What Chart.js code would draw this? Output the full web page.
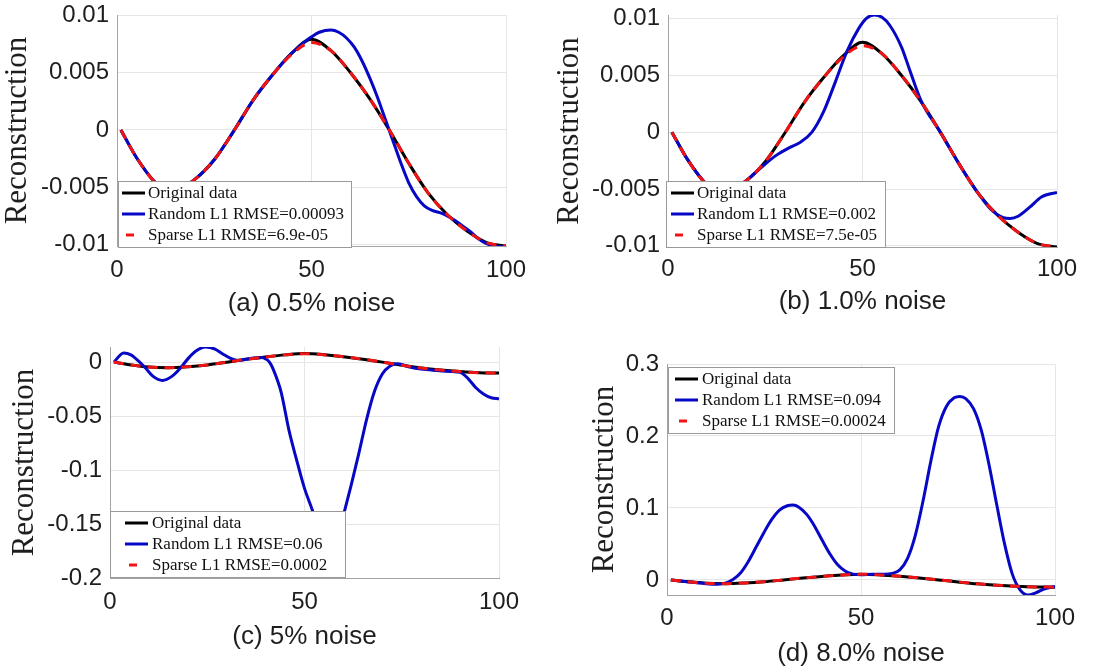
<!DOCTYPE html>
<html>
<head>
<meta charset="utf-8">
<script src="https://cdn.jsdelivr.net/npm/chart.js@4.4.1/dist/chart.umd.min.js"></script>
<style>
  html, body { margin: 0; padding: 0; background: #fff; }
  body { width: 1118px; height: 671px; position: relative; overflow: hidden; }
  canvas { position: absolute; }
</style>
</head>
<body>
<canvas id="chartA" width="559" height="335" style="left:0px;top:0px"></canvas>
<canvas id="chartB" width="573" height="335" style="left:545px;top:0px"></canvas>
<canvas id="chartC" width="559" height="336" style="left:0px;top:335px"></canvas>
<canvas id="chartD" width="558" height="336" style="left:560px;top:335px"></canvas>
<script>
// ---- shared axis ticks ----
const xTicks = [0, 50, 100];
const yTicksAB = [-0.01, -0.005, 0, 0.005, 0.01];
const yTicksC = [-0.2, -0.15, -0.1, -0.05, 0];
const yTicksD = [0, 0.1, 0.2, 0.3];

// ---- original signal (same in every panel) ----
const xOriginal = [1, 5, 10, 15, 20, 25, 30, 35, 40, 45, 50, 55, 60, 65, 70, 75, 80, 85, 90, 95, 100];
const original  = [0, -0.0024, -0.0046, -0.0052, -0.0043, -0.0026, -0.0001, 0.0026, 0.0048, 0.0067, 0.0079,
                   0.0069, 0.0050, 0.0027, 0.0000, -0.0029, -0.0055, -0.0074, -0.0088, -0.0098, -0.0101];

// ---- sparse L1 reconstructions ----
const sparseA = [0, -0.0024, -0.0046, -0.0052, -0.0043, -0.0026, -0.0001, 0.0026, 0.0048, 0.0066, 0.0076,
                 0.0069, 0.0050, 0.0027, 0.0000, -0.0029, -0.0055, -0.0074, -0.0088, -0.0098, -0.0101];
const sparseB = [0, -0.0024, -0.0046, -0.0052, -0.0043, -0.0026, -0.0001, 0.0026, 0.0048, 0.0066, 0.0076,
                 0.0069, 0.0050, 0.0027, 0.0000, -0.0029, -0.0055, -0.0074, -0.0088, -0.0098, -0.0101];
const sparseC = [0, -0.0024, -0.0046, -0.0052, -0.0043, -0.0026, -0.0001, 0.0026, 0.0048, 0.0067, 0.0078,
                 0.0069, 0.0050, 0.0027, 0.0000, -0.0029, -0.0055, -0.0074, -0.0088, -0.0098, -0.0101];
const sparseD = [0, -0.0024, -0.0046, -0.0052, -0.0043, -0.0026, -0.0001, 0.0026, 0.0048, 0.0067, 0.0078,
                 0.0069, 0.0050, 0.0027, 0.0000, -0.0029, -0.0055, -0.0074, -0.0088, -0.0098, -0.0101];

// ---- random L1 reconstructions ----
const xRandomA = [1, 5, 10, 15, 20, 25, 30, 35, 40, 45, 48, 50, 52, 55, 57, 59, 61, 63, 65, 67, 69, 71, 73, 75,
                  77, 79, 81, 83, 85, 87, 89, 91, 93, 95, 97, 100];
const randomA  = [0, -0.0024, -0.0046, -0.0052, -0.0043, -0.0026, -0.0001, 0.0026, 0.0048, 0.0067, 0.0076, 0.0081,
                  0.0085, 0.0087, 0.0085, 0.0080, 0.0072, 0.0060, 0.0045, 0.0028, 0.0009, -0.0010, -0.0029, -0.0046,
                  -0.0058, -0.0066, -0.0070, -0.0072, -0.0075, -0.0079, -0.0084, -0.0089, -0.0095, -0.0099, -0.0101, -0.0102];

const xRandomB = [1, 5, 10, 15, 20, 22, 25, 28, 31, 34, 37, 40, 43, 46, 49, 51, 53, 55, 57, 60, 62, 65, 70, 75,
                  80, 83, 86, 88, 90, 93, 96, 100];
const randomB  = [0, -0.0024, -0.0046, -0.0052, -0.0043, -0.0037, -0.0028, -0.0020, -0.0014, -0.0009, 0.0000, 0.0018,
                  0.0044, 0.0071, 0.0091, 0.0100, 0.0103, 0.0101, 0.0094, 0.0075, 0.0056, 0.0028, 0.0000, -0.0029,
                  -0.0055, -0.0068, -0.0075, -0.0076, -0.0074, -0.0066, -0.0057, -0.0053];

const xRandomC = [1, 3.5, 5.5, 7, 9, 11, 13.5, 16, 18, 20, 22, 24.5, 27, 29, 31, 33, 35, 37, 39, 40, 41, 42, 44,
                  46, 48, 50, 52, 54, 55, 56, 57, 58, 59, 60, 62, 64, 66, 68, 70, 72, 74, 77, 80, 84, 88, 90, 92,
                  94, 96, 98, 100];
const randomC  = [0, 0.0085, 0.0065, 0.0020, -0.0050, -0.0130, -0.0170, -0.0130, -0.0060, 0.0030, 0.0100, 0.0140,
                  0.0120, 0.0075, 0.0035, 0.0015, 0.0026, 0.0038, 0.0043, 0.0030, 0.0000, -0.0070, -0.0280, -0.0630,
                  -0.0910, -0.1170, -0.1370, -0.1600, -0.1720, -0.1780, -0.1760, -0.1670, -0.1550, -0.1420, -0.1140,
                  -0.0840, -0.0525, -0.0270, -0.0110, -0.0035, -0.0015, -0.0045, -0.0065, -0.0078, -0.0088, -0.0095,
                  -0.0150, -0.0235, -0.0295, -0.0330, -0.0340];

const xRandomD = [1, 5, 10, 13, 15, 17, 19, 21, 23, 25, 27, 29, 31, 32.5, 34, 36, 38, 40, 42, 44, 46, 48, 50, 53,
                  56, 58, 60, 62, 64, 66, 68, 70, 72, 74, 75.5, 77, 79, 81, 83, 85, 87, 89, 91, 93, 95, 97, 100];
const randomD  = [0, -0.0025, -0.0052, -0.0060, -0.0045, 0.0005, 0.010, 0.026, 0.046, 0.066, 0.084, 0.097, 0.103,
                  0.104, 0.101, 0.091, 0.075, 0.055, 0.036, 0.021, 0.012, 0.008, 0.007, 0.008, 0.008, 0.009, 0.014,
                  0.030, 0.062, 0.110, 0.165, 0.213, 0.241, 0.253, 0.255, 0.252, 0.238, 0.208, 0.160, 0.104, 0.050,
                  0.008, -0.014, -0.021, -0.018, -0.013, -0.009];

// ---- legend texts and captions ----
const labelsA = ['Original data', 'Random L1 RMSE=0.00093', 'Sparse L1 RMSE=6.9e-05'];
const labelsB = ['Original data', 'Random L1 RMSE=0.002', 'Sparse L1 RMSE=7.5e-05'];
const labelsC = ['Original data', 'Random L1 RMSE=0.06', 'Sparse L1 RMSE=0.0002'];
const labelsD = ['Original data', 'Random L1 RMSE=0.094', 'Sparse L1 RMSE=0.00024'];
const captions = ['(a) 0.5% noise', '(b) 1.0% noise', '(c) 5% noise', '(d) 8.0% noise'];
const yAxisTitle = 'Reconstruction';

// ---- styling ----
const BLACK = '#000000';
const BLUE = '#0707c6';
const RED = '#f01414';
const GRID = '#e6e6e6';
const AXIS = '#a3a3a3';
const TEXT = '#1e1e1e';

function pts(xs, ys) { return xs.map((x, i) => ({ x: x, y: ys[i] })); }

function fmt(v) { return String(+Number(v).toFixed(4)); }

// Legend drawn as an opaque box inside the plot area, on top of the lines.
const boxLegend = {
  id: 'boxLegend',
  afterDatasetsDraw(chart, args, opts) {
    const ctx = chart.ctx;
    const area = chart.chartArea;
    ctx.save();
    ctx.font = '17px "Liberation Serif", "Times New Roman", serif';
    const sets = chart.data.datasets;
    const w = opts.width;
    const h = 67;
    const x0 = area.left + opts.dx;
    const y0 = opts.corner === 'sw' ? area.bottom + opts.dy - h : area.top + opts.dy;
    ctx.fillStyle = '#ffffff';
    ctx.fillRect(x0, y0, w, h);
    ctx.strokeStyle = '#9a9a9a';
    ctx.lineWidth = 1;
    ctx.strokeRect(x0 + 0.5, y0 + 0.5, w - 1, h - 1);
    sets.forEach((d, i) => {
      const cy = Math.round(y0 + 11.7 + i * 21.3);
      const s0 = x0 + opts.sample;
      ctx.strokeStyle = d.borderColor;
      ctx.lineWidth = d.borderWidth;
      ctx.beginPath();
      if (d.borderDash && d.borderDash.length) {
        ctx.moveTo(s0 + 4, cy);
        ctx.lineTo(s0 + 4 + d.borderDash[0] - 2, cy);
      } else {
        ctx.moveTo(s0, cy);
        ctx.lineTo(s0 + 23, cy);
      }
      ctx.stroke();
      ctx.fillStyle = '#111111';
      ctx.textBaseline = 'middle';
      ctx.textAlign = 'left';
      ctx.fillText(d.label, x0 + opts.text, cy + 1);
    });
    ctx.restore();
  }
};

function makePanel(id, p) {
  const datasets = [
    { label: p.labels[0], data: pts(xOriginal, original), borderColor: BLACK, borderWidth: 3, order: 3 },
    { label: p.labels[1], data: pts(p.xRandom, p.random), borderColor: BLUE, borderWidth: 3, order: 2 },
    { label: p.labels[2], data: pts(xOriginal, p.sparse), borderColor: RED, borderWidth: 3, borderDash: [10, 7], order: 1 }
  ];
  datasets.forEach(d => {
    d.pointRadius = 0;
    d.fill = false;
    d.cubicInterpolationMode = 'monotone';
    d.backgroundColor = d.borderColor;
  });
  return new Chart(document.getElementById(id), {
    type: 'line',
    data: { datasets: datasets },
    plugins: [boxLegend],
    options: {
      responsive: false,
      animation: false,
      events: [],
      layout: { padding: { left: 0, top: p.padTop, right: p.padRight, bottom: 0 } },
      plugins: {
        legend: { display: false },
        tooltip: { enabled: false },
        boxLegend: p.legend
      },
      scales: {
        x: {
          type: 'linear', min: 0, max: 100,
          afterBuildTicks: s => { s.ticks = xTicks.map(v => ({ value: v })); },
          afterFit: s => { s.height = p.xHeight; s.paddingLeft = 0; s.paddingRight = 0; },
          ticks: { autoSkip: false, maxRotation: 0, padding: p.xTickPad, color: TEXT,
                   font: { family: '"Liberation Sans", Arial, sans-serif', size: 24 }, callback: v => fmt(v) },
          grid: { color: GRID, lineWidth: 1, drawTicks: false },
          border: { color: AXIS, width: 1 },
          title: { display: true, text: p.caption, color: TEXT,
                   font: { family: '"Liberation Sans", Arial, sans-serif', size: 26, lineHeight: 1.2 },
                   padding: { top: 0, bottom: p.capPad } }
        },
        y: {
          type: 'linear', min: p.yMin, max: p.yMax,
          afterBuildTicks: s => { s.ticks = p.yTicks.map(v => ({ value: v })); },
          afterFit: s => { s.width = p.yWidth; s.paddingTop = 0; s.paddingBottom = 0; },
          ticks: { autoSkip: false, padding: 8, color: TEXT,
                   font: { family: '"Liberation Sans", Arial, sans-serif', size: 24 }, callback: v => fmt(v) },
          grid: { color: GRID, lineWidth: 1, drawTicks: false },
          border: { color: AXIS, width: 1 },
          title: { display: true, text: yAxisTitle, color: TEXT,
                   font: { family: '"Liberation Serif", "Times New Roman", serif', size: 31, lineHeight: 1 },
                   padding: { top: p.titlePad, bottom: 0 } }
        }
      }
    }
  });
}

makePanel('chartA', {
  labels: labelsA, xRandom: xRandomA, random: randomA, sparse: sparseA, caption: captions[0],
  yMin: -0.0101, yMax: 0.01, yTicks: yTicksAB,
  yWidth: 117, padTop: 15, padRight: 53, xHeight: 89, xTickPad: 10, capPad: 15.4, titlePad: 2.5,
  legend: { corner: 'sw', dx: 1, dy: 2, width: 234, sample: 4, text: 30 }
});
makePanel('chartB', {
  labels: labelsB, xRandom: xRandomB, random: randomB, sparse: sparseB, caption: captions[1],
  yMin: -0.0101, yMax: 0.0103, yTicks: yTicksAB,
  yWidth: 123, padTop: 15, padRight: 61, xHeight: 88, xTickPad: 8, capPad: 17.4, titlePad: 9.5,
  legend: { corner: 'sw', dx: -2, dy: 1, width: 220, sample: 5, text: 31 }
});
makePanel('chartC', {
  labels: labelsC, xRandom: xRandomC, random: randomC, sparse: sparseC, caption: captions[2],
  yMin: -0.2, yMax: 0.014, yTicks: yTicksC,
  yWidth: 110, padTop: 12, padRight: 60, xHeight: 93, xTickPad: 10, capPad: 18.4, titlePad: 9.5,
  legend: { corner: 'sw', dx: 0, dy: 0, width: 236, sample: 15, text: 42 }
});
makePanel('chartD', {
  labels: labelsD, xRandom: xRandomD, random: randomD, sparse: sparseD, caption: captions[3],
  yMin: -0.021, yMax: 0.3, yTicks: yTicksD,
  yWidth: 107, padTop: 29, padRight: 63, xHeight: 76, xTickPad: 9, capPad: 1.4, titlePad: 29.5,
  legend: { corner: 'nw', dx: 1, dy: 3, width: 227, sample: 7, text: 34 }
});
</script>
</body>
</html>
